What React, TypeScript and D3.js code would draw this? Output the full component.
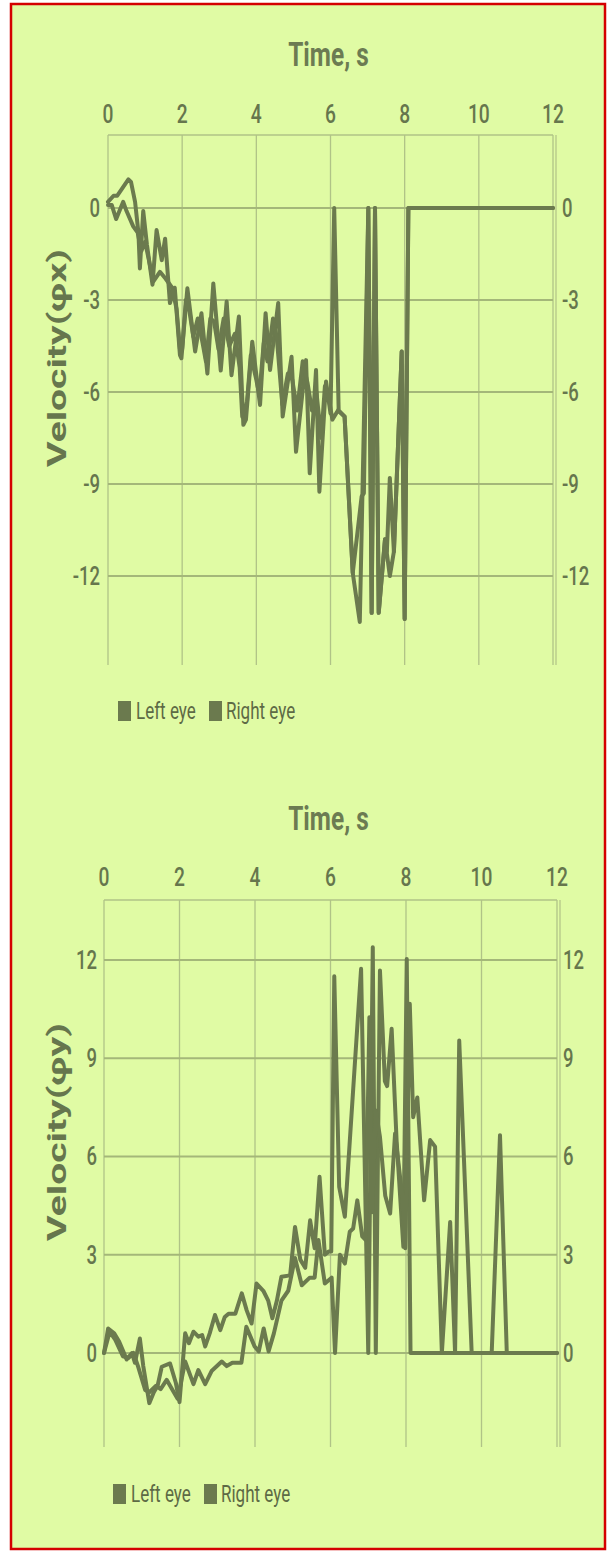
import React from "react";
import * as d3 from "d3";

// ---------- DATA ----------
const xTicks = [0, 2, 4, 6, 8, 10, 12];
const yTicksX = [0, -3, -6, -9, -12];
const yTicksY = [0, 3, 6, 9, 12];
const seriesNames = ["Left eye", "Right eye"];
const xTitle = "Time, s";
const yTitleX = "Velocity(φx)";
const yTitleY = "Velocity(φy)";

// Velocity φx, left eye: [time s, value]
const phiXLeft: [number, number][] = [
  [0, 0.2], [0.15, 0.4], [0.25, 0.4], [0.55, 0.93], [0.62, 0.85], [0.73, 0.2], [0.82, -0.8], [0.86, -1.97],
  [0.95, -0.1], [1.05, -1.2], [1.2, -2.5], [1.31, -0.72], [1.45, -1.7], [1.54, -1.0], [1.67, -3.1], [1.8, -2.6],
  [1.94, -4.8], [1.98, -4.9], [2.14, -2.62], [2.35, -4.68], [2.52, -3.43], [2.68, -5.4], [2.84, -2.46], [3.04, -5.3],
  [3.2, -3.05], [3.33, -5.45], [3.53, -3.54], [3.65, -7.07], [3.72, -6.9], [3.89, -4.36], [4.1, -6.42], [4.25, -3.43],
  [4.37, -5.28], [4.59, -3.1], [4.71, -6.8], [4.95, -4.85], [5.07, -7.95], [5.34, -4.96], [5.44, -8.65], [5.61, -5.28],
  [5.7, -9.25], [5.88, -5.66], [6.0, -6.7], [6.1, 0], [6.22, -6.6], [6.38, -6.8], [6.6, -11.9], [6.79, -13.5],
  [7.02, 0], [7.11, -13.2], [7.2, 0], [7.3, -13.2], [7.47, -10.8], [7.52, -11.2], [7.6, -8.8], [7.71, -11.2],
  [7.92, -4.68], [8.0, -13.4], [8.1, 0], [12, 0],
];
// Velocity φx, right eye
const phiXRight: [number, number][] = [
  [0, 0.1], [0.1, 0.1], [0.22, -0.36], [0.41, 0.2], [0.5, -0.1], [0.68, -0.6], [0.8, -0.8], [0.9, -1.4],
  [1.0, -1.1], [1.12, -1.8], [1.22, -2.4], [1.4, -2.08], [1.55, -2.3], [1.73, -2.6], [1.85, -3.3], [1.94, -4.6],
  [2.0, -4.6], [2.1, -3.0], [2.2, -3.4], [2.3, -4.2], [2.42, -3.6], [2.55, -4.4], [2.64, -5.0], [2.76, -3.6],
  [2.86, -3.7], [2.98, -4.6], [3.12, -3.6], [3.27, -4.5], [3.42, -4.1], [3.55, -5.2], [3.62, -6.8], [3.75, -6.3],
  [3.85, -4.8], [4.0, -5.6], [4.08, -6.1], [4.2, -4.4], [4.3, -5.0], [4.45, -3.6], [4.55, -4.2], [4.7, -6.4],
  [4.85, -5.4], [4.97, -5.6], [5.1, -6.6], [5.25, -5.0], [5.38, -5.7], [5.5, -6.6], [5.62, -6.0], [5.75, -7.5],
  [5.85, -5.8], [5.97, -6.3], [6.05, -6.9], [6.2, -6.6], [6.38, -6.8], [6.6, -11.9], [6.84, -9.4], [6.9, -9.3],
  [7.02, 0], [7.11, -13.2], [7.2, 0], [7.3, -13.2], [7.47, -10.8], [7.6, -12.0], [7.71, -11.2], [7.92, -4.68],
  [8.0, -13.4], [8.1, 0], [12, 0],
];
// Velocity φy, left eye
const phiYLeft: [number, number][] = [
  [0, 0], [0.11, 0.75], [0.27, 0.6], [0.4, 0.35], [0.51, 0.05], [0.6, -0.2], [0.74, 0], [0.82, -0.3],
  [0.95, 0.44], [1.04, -0.4], [1.2, -1.53], [1.32, -1.2], [1.42, -1.0], [1.53, -0.42], [1.75, -0.32], [1.9, -0.9],
  [2.0, -1.5], [2.15, 0.6], [2.25, 0.3], [2.37, 0.65], [2.5, 0.5], [2.6, 0.55], [2.68, 0.2], [2.8, 0.6],
  [2.94, 1.16], [3.08, 0.7], [3.2, 1.1], [3.3, 1.2], [3.48, 1.2], [3.65, 1.82], [3.78, 1.3], [3.91, 0.9],
  [4.04, 2.12], [4.22, 1.9], [4.35, 1.6], [4.46, 1.06], [4.58, 1.6], [4.7, 2.33], [4.93, 2.37], [5.06, 3.85],
  [5.2, 2.85], [5.33, 2.6], [5.46, 4.05], [5.58, 3.2], [5.71, 5.38], [5.85, 3.0], [5.95, 3.1], [6.02, 3.1],
  [6.1, 11.5], [6.23, 5.07], [6.38, 4.16], [6.81, 11.73], [7.0, 0], [7.12, 12.39], [7.2, 0], [7.31, 11.68],
  [7.44, 8.3], [7.5, 8.15], [7.62, 9.9], [7.75, 6.5], [7.93, 3.24], [8.02, 12.03], [8.12, 0], [12, 0],
];
// Velocity φy, right eye
const phiYRight: [number, number][] = [
  [0, 0], [0.15, 0.65], [0.3, 0.4], [0.5, -0.1], [0.65, -0.15], [0.78, 0], [0.9, -0.4], [1.09, -1.13],
  [1.2, -1.2], [1.38, -1.0], [1.5, -1.1], [1.66, -0.82], [1.8, -1.1], [1.95, -1.4], [2.15, -0.26], [2.37, -0.95],
  [2.5, -0.52], [2.68, -0.95], [2.85, -0.55], [3.12, -0.26], [3.25, -0.4], [3.4, -0.3], [3.64, -0.3], [3.77, 0.8],
  [3.99, 0.2], [4.1, 0.05], [4.23, 0.75], [4.36, 0.05], [4.5, 0.6], [4.7, 1.6], [4.88, 1.9], [5.06, 2.9],
  [5.24, 2.07], [5.45, 2.3], [5.58, 2.3], [5.68, 3.45], [5.85, 2.12], [6.03, 2.3], [6.12, 0], [6.25, 3.0],
  [6.38, 2.73], [6.51, 3.7], [6.6, 3.8], [6.71, 4.66], [6.84, 3.56], [6.93, 3.45], [7.03, 10.25], [7.1, 4.3],
  [7.2, 7.4], [7.31, 6.6], [7.45, 4.8], [7.58, 4.26], [7.71, 6.7], [7.9, 4.8], [7.98, 3.2], [8.1, 10.66],
  [8.19, 7.2], [8.3, 7.8], [8.48, 4.66], [8.64, 6.5], [8.77, 6.3], [8.95, 0], [9.17, 4.0], [9.3, 0],
  [9.41, 9.54], [9.74, 0], [10.27, 0], [10.49, 6.65], [10.67, 0], [12, 0],
];

// ---------- STYLE ----------
const BG = "#e0fba4";
const LINE = "#6b7a4e";
const TEXT = "#66764d";
const GRID_H = "#a4b779";
const GRID_V = "#b0c387";
const FONT = "Roboto, 'Noto Sans', sans-serif";
const SX = 0.74;

type PanelProps = {
  left: [number, number][];
  right: [number, number][];
  yTicks: number[];
  yDomain: [number, number];
  x0: number; x1: number; yTop: number; yBot: number;
  titleY: number; tickY: number;
  yTitle: string; yTitleCy: number;
  legendX: number; legendY: number;
  leftLabelX: number; rightLabelX: number;
};

function HText({ x, y, anchor = "middle", size, weight = 400, children, fill = TEXT }: any) {
  return (
    <text transform={`translate(${x},${y}) scale(${SX},1)`} textAnchor={anchor} fontSize={size}
      fontWeight={weight} fontFamily={FONT} fill={fill}>{children}</text>
  );
}

function Panel(p: PanelProps) {
  const x = d3.scaleLinear().domain([0, 12]).range([p.x0, p.x1]);
  const y = d3.scaleLinear().domain(p.yDomain).range([p.yBot, p.yTop]);
  const line = d3.line<[number, number]>().x(d => x(d[0])).y(d => y(d[1]));
  return (
    <g>
      <HText x={(p.x0 + p.x1) / 2 - 2} y={p.titleY} size={33} weight={700} fill="#6c7b52">{xTitle}</HText>
      {xTicks.map(t => (
        <HText key={"xt" + t} x={x(t)} y={p.tickY} size={26} weight={500}>{t}</HText>
      ))}
      {/* frame & grid */}
      <line x1={p.x0} x2={p.x1} y1={p.yTop} y2={p.yTop} stroke={GRID_V} strokeWidth={1.5} />
      {xTicks.map(t => (
        <line key={"gv" + t} x1={x(t)} x2={x(t)} y1={p.yTop} y2={p.yBot} stroke={GRID_V} strokeWidth={1.3} />
      ))}
      <line x1={p.x1 + 3} x2={p.x1 + 3} y1={p.yTop} y2={p.yBot} stroke={GRID_V} strokeWidth={1.2} />
      {p.yTicks.map(t => (
        <line key={"gh" + t} x1={p.x0} x2={p.x1} y1={y(t)} y2={y(t)} stroke={GRID_H} strokeWidth={2} />
      ))}
      {p.yTicks.map(t => (
        <g key={"yl" + t}>
          <HText x={p.leftLabelX} y={y(t) + 9} anchor="end" size={25} weight={500}>{t}</HText>
          <HText x={p.rightLabelX} y={y(t) + 9} anchor="start" size={25} weight={500}>{t}</HText>
        </g>
      ))}
      <text transform={`translate(66,${p.yTitleCy}) rotate(-90)`} textAnchor="middle" fontSize={25}
        fontWeight={700} fontFamily={FONT} fill={TEXT} textLength={218} lengthAdjust="spacingAndGlyphs">{p.yTitle}</text>
      {/* series */}
      {[p.left, p.right].map((s, i) => (
        <path key={"s" + i} d={line(s) || ""} fill="none" stroke={LINE} strokeWidth={4}
          strokeLinejoin="round" strokeLinecap="round" />
      ))}
      {/* legend */}
      <rect x={p.legendX} y={p.legendY - 18} width={13} height={20} fill={LINE} />
      <HText x={p.legendX + 18} y={p.legendY} anchor="start" size={23} weight={400} fill="#5d6a45">{seriesNames[0]}</HText>
      <rect x={p.legendX + 91} y={p.legendY - 18} width={13} height={20} fill={LINE} />
      <HText x={p.legendX + 108} y={p.legendY} anchor="start" size={23} weight={400} fill="#5d6a45">{seriesNames[1]}</HText>
    </g>
  );
}

export default function App() {
  return (
    <svg width={614} height={1555} style={{ position: "absolute", left: 0, top: 0, background: "#ffffff" }}>
      <rect x={11} y={4} width={594} height={1545} fill={BG} stroke="#d40000" strokeWidth={2.5} />
      <Panel left={phiXLeft} right={phiXRight} yTicks={yTicksX} yDomain={[-14.9, 2.38]}
        x0={108} x1={553} yTop={135} yBot={665} titleY={66} tickY={123}
        yTitle={yTitleX} yTitleCy={358} legendX={118} legendY={719} leftLabelX={100} rightLabelX={562} />
      <Panel left={phiYLeft} right={phiYRight} yTicks={yTicksY} yDomain={[-2.87, 13.83]}
        x0={104} x1={557} yTop={900} yBot={1447} titleY={830} tickY={886}
        yTitle={yTitleY} yTitleCy={1132} legendX={113} legendY={1502} leftLabelX={97} rightLabelX={563} />
    </svg>
  );
}
